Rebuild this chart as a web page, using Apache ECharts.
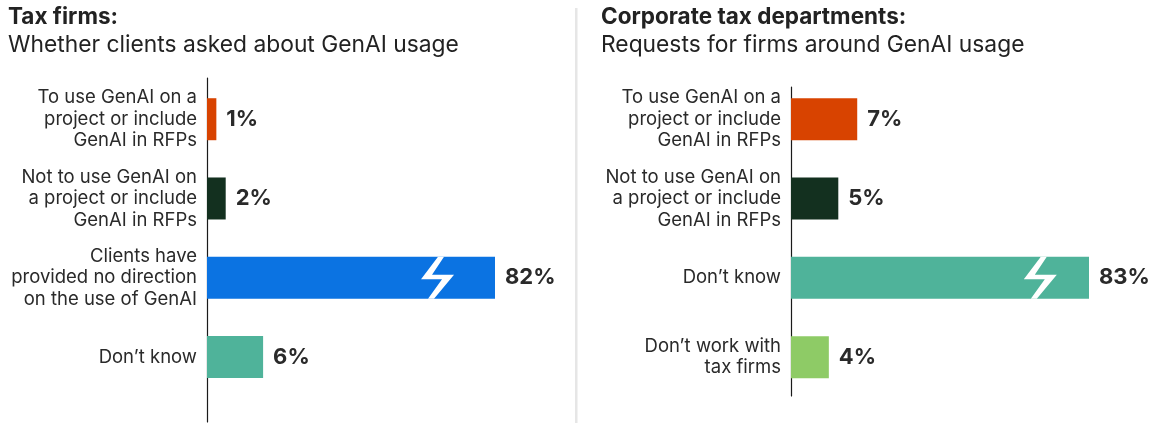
<!DOCTYPE html>
<html>
<head>
<meta charset="utf-8">
<script src="https://cdn.jsdelivr.net/npm/echarts@6/dist/echarts.min.js"></script>
<style>
  html, body { margin: 0; padding: 0; background: #ffffff; }
  #chart { width: 1168px; height: 423px; }
</style>
</head>
<body>
<div id="chart"></div>
<script>
// Tax firms: whether clients asked about GenAI usage
const firmCategories = [
  'To use GenAI on a\nproject or include\nGenAI in RFPs',
  'Not to use GenAI on\na project or include\nGenAI in RFPs',
  'Clients have\nprovided no direction\non the use of GenAI',
  'Don\u2019t know'
];
const firmValues = [1, 2, 82, 6];
const firmColors = ['#D84300', '#13301F', '#0B73E2', '#4FB39A'];

// Corporate tax departments: requests for firms around GenAI usage
const deptCategories = [
  'To use GenAI on a\nproject or include\nGenAI in RFPs',
  'Not to use GenAI on\na project or include\nGenAI in RFPs',
  'Don\u2019t know',
  'Don\u2019t work with\ntax firms'
];
const deptValues = [7, 5, 83, 4];
const deptColors = ['#D84300', '#13301F', '#4FB39A', '#8ECB66'];

// Broken value ranges (the long bars are cut where the bolt is drawn)
const firmBreak = { start: 24.6, end: 75.8 };
const deptBreak = { start: 26.3, end: 77.8 };

const FONT = 'Inter, "Noto Sans", sans-serif';
const TEXT = '#2a2a2a';
const BAR_H = 42;

function barRenderer(categories, colors, brk) {
  return function (params, api) {
    const v = api.value(0);
    const i = api.value(1);
    const p0 = api.coord([0, i]);
    const p1 = api.coord([v, i]);
    const top = p0[1] - BAR_H / 2;
    const children = [
      {
        type: 'rect',
        shape: { x: p0[0], y: top, width: p1[0] - p0[0], height: BAR_H },
        style: { fill: colors[i] }
      },
      {
        type: 'text',
        x: p1[0] + 10,
        y: p0[1],
        style: {
          text: v + '%',
          fill: TEXT,
          font: 'bold 22px ' + FONT,
          align: 'left',
          verticalAlign: 'middle'
        }
      },
      {
        type: 'text',
        x: p0[0] - 10,
        y: p0[1],
        style: {
          text: categories[i],
          fill: TEXT,
          font: '18.5px ' + FONT,
          lineHeight: 21.5,
          align: 'right',
          verticalAlign: 'middle'
        }
      }
    ];
    if (v > brk.end) {
      const cx = api.coord([brk.start, i])[0];
      const mid = p0[1] - 1;
      children.push({
        type: 'polygon',
        shape: {
          points: [
            [cx + 1, top], [cx + 7, top],
            [cx - 5, mid - 2], [cx + 17, mid - 2],
            [cx - 3, top + BAR_H], [cx - 9, top + BAR_H],
            [cx + 5, mid + 2.5], [cx - 16, mid + 2.5]
          ]
        },
        style: { fill: '#ffffff' }
      });
    }
    return { type: 'group', children: children };
  };
}

const chart = echarts.init(document.getElementById('chart'), null, { renderer: 'canvas' });

function xAxisFor(gridIndex, brk, max) {
  return {
    type: 'value',
    gridIndex: gridIndex,
    min: 0,
    max: max,
    show: false,
    splitLine: { show: false },
    breaks: [{ start: brk.start, end: brk.end, gap: 0 }],
    breakArea: { show: false }
  };
}

function yAxisFor(gridIndex, min, max) {
  return {
    type: 'value',
    gridIndex: gridIndex,
    inverse: true,
    min: min,
    max: max,
    axisLine: { show: true, lineStyle: { color: '#1a1a1a', width: 1.2 } },
    axisTick: { show: false },
    axisLabel: { show: false },
    splitLine: { show: false }
  };
}

const titleRich = {
  b: { fontFamily: FONT, fontSize: 22.5, fontWeight: 'bold', color: '#222', lineHeight: 28 },
  n: { fontFamily: FONT, fontSize: 22.8, fontWeight: 'normal', color: '#222', lineHeight: 28 }
};

chart.setOption({
  animation: false,
  backgroundColor: '#ffffff',
  title: [
    {
      left: 3, top: -2,
      text: '{b|Tax firms:}\n{n|Whether clients asked about GenAI usage}',
      textStyle: { fontWeight: 'normal', rich: titleRich }
    },
    {
      left: 596, top: -2,
      text: '{b|Corporate tax departments:}\n{n|Requests for firms around GenAI usage}',
      textStyle: { fontWeight: 'normal', rich: titleRich }
    }
  ],
  graphic: [
    {
      type: 'rect',
      shape: { x: 575, y: 8, width: 2.5, height: 415 },
      style: { fill: '#e6e6e6' }
    }
  ],
  grid: [
    { left: 207, top: 78, width: 288, height: 344 },
    { left: 791, top: 87, width: 298, height: 309 }
  ],
  xAxis: [
    xAxisFor(0, firmBreak, 82),
    xAxisFor(1, deptBreak, 83)
  ],
  yAxis: [
    yAxisFor(0, -0.52, 3.82),
    yAxisFor(1, -0.405, 3.49)
  ],
  series: [
    {
      type: 'custom',
      xAxisIndex: 0, yAxisIndex: 0,
      clip: false,
      encode: { x: 0, y: 1 },
      renderItem: barRenderer(firmCategories, firmColors, firmBreak),
      data: firmValues.map((v, i) => [v, i])
    },
    {
      type: 'custom',
      xAxisIndex: 1, yAxisIndex: 1,
      clip: false,
      encode: { x: 0, y: 1 },
      renderItem: barRenderer(deptCategories, deptColors, deptBreak),
      data: deptValues.map((v, i) => [v, i])
    }
  ]
});
</script>
</body>
</html>
